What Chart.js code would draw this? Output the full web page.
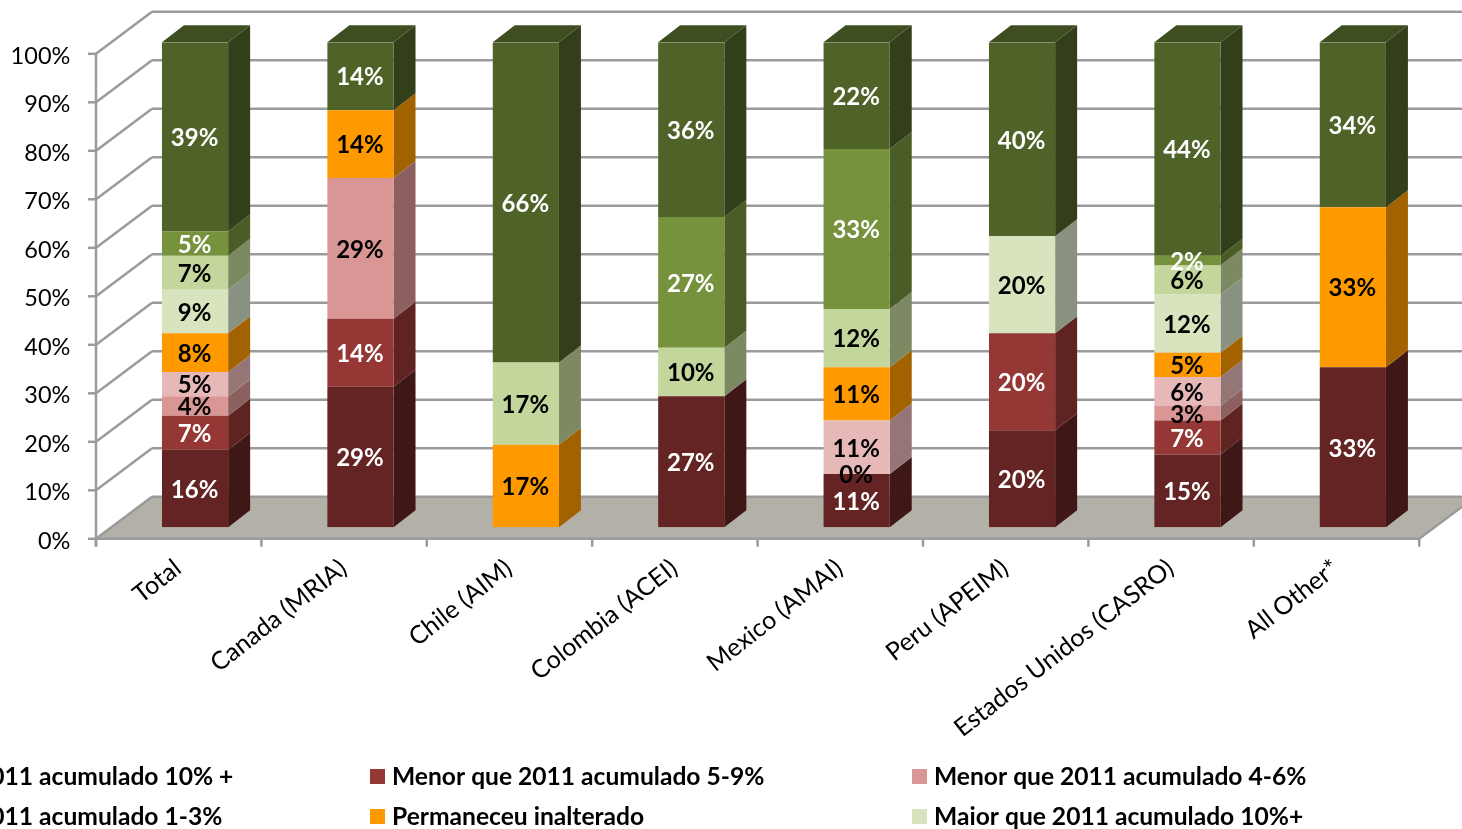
<!DOCTYPE html>
<html>
<head>
<meta charset="utf-8">
<style>
  html, body { margin: 0; padding: 0; background: #fff; overflow: hidden; }
  canvas { display: block; }
</style>
<script src="https://cdn.jsdelivr.net/npm/chart.js@4"></script>
</head>
<body>
<canvas id="chart" width="1462" height="829"></canvas>
<script>
const categories = ['Total', 'Canada (MRIA)', 'Chile (AIM)', 'Colombia (ACEI)', 'Mexico (AMAI)', 'Peru (APEIM)', 'Estados Unidos (CASRO)', 'All Other*'];

const seriesNames = [
  'Menor que 2011 acumulado 10% +',
  'Menor que 2011 acumulado 5-9%',
  'Menor que 2011 acumulado 4-6%',
  'Menor que 2011 acumulado 1-3%',
  'Permaneceu inalterado',
  'Maior que 2011 acumulado 10%+',
  'Maior que 2011 acumulado 5-9%',
  'Maior que 2011 acumulado 4-6%',
  'Maior que 2011 acumulado 1-3%'
];

const menor10 = [16, 29, null, 27, 11, 20, 15, 33];
const menor59 = [7, 14, null, null, null, 20, 7, null];
const menor46 = [4, 29, null, null, 0, null, 3, null];
const menor13 = [5, null, null, null, 11, null, 6, null];
const inalterado = [8, 14, 17, null, 11, null, 5, 33];
const maior10 = [9, null, null, null, null, 20, 12, null];
const maior59 = [7, null, 17, 10, 12, null, 6, null];
const maior46 = [5, null, null, 27, 33, null, 2, null];
const maior13 = [39, 14, 66, 36, 22, 40, 44, 34];

const seriesValues = [menor10, menor59, menor46, menor13, inalterado, maior10, maior59, maior46, maior13];

const frontColors = ['#632423', '#953735', '#D99694', '#E6B9B8', '#FF9900', '#D7E4BD', '#C3D69B', '#76923C', '#4F6228'];
const sideColors = ['#3F1716', '#5F2322', '#8B605F', '#937675', '#A36200', '#899281', '#7D8963', '#4B5D26', '#323F1A'];
const labelColors = ['#fff', '#fff', '#000', '#000', '#000', '#000', '#000', '#fff', '#fff'];
const topColor = '#3F4E20';

const legendCount = 6; // the last row falls below the picture

const FONT = 'Lato, Carlito, sans-serif';
const GRID = '#9b9b9b';

// front plane of the bars is the chart area, the walls sit around it
const WALL_DX = 56, WALL_DY = 42;
const AXIS_DX = 16.35, AXIS_DY = 11.5;
const BAR_DX = 22, BAR_DY = 17;

function line(ctx, x1, y1, x2, y2) {
  ctx.beginPath();
  ctx.moveTo(x1, y1);
  ctx.lineTo(x2, y2);
  ctx.stroke();
}

function poly(ctx, pts, color) {
  ctx.fillStyle = color;
  ctx.beginPath();
  pts.forEach((p, i) => i ? ctx.lineTo(p[0], p[1]) : ctx.moveTo(p[0], p[1]));
  ctx.closePath();
  ctx.fill();
}

const walls = {
  id: 'walls',
  beforeDatasetsDraw(chart) {
    const ctx = chart.ctx;
    const xs = chart.scales.x, ys = chart.scales.y;
    const step = xs.width / categories.length;
    const left = xs.left - AXIS_DX;
    const right = xs.right - AXIS_DX;
    const base = ys.getPixelForValue(0) + AXIS_DY;

    ctx.save();
    // floor
    poly(ctx, [[left, base], [right, base], [right + WALL_DX, base - WALL_DY], [left + WALL_DX, base - WALL_DY]], '#B3B0A8');

    ctx.strokeStyle = GRID;
    ctx.lineWidth = 2.5;
    ys.ticks.forEach(t => {
      const y = ys.getPixelForValue(t.value) + AXIS_DY;
      line(ctx, left - 8, y, left, y);
      line(ctx, left, y, left + WALL_DX, y - WALL_DY);
      line(ctx, left + WALL_DX, y - WALL_DY, right + WALL_DX, y - WALL_DY);
    });
    line(ctx, left, ys.getPixelForValue(100) + AXIS_DY, left, base + 8);
    line(ctx, left, base, right, base);
    line(ctx, right, base, right + WALL_DX, base - WALL_DY);
    for (let i = 0; i <= categories.length; i++) {
      line(ctx, left + i * step, base, left + i * step, base + 8);
    }

    // side and top faces of the bars
    seriesValues.forEach((vals, s) => {
      chart.getDatasetMeta(s).data.forEach((bar, i) => {
        if (!vals[i]) return;
        const r = bar.x + bar.width / 2;
        poly(ctx, [[r, bar.base], [r + BAR_DX, bar.base - BAR_DY], [r + BAR_DX, bar.y - BAR_DY], [r, bar.y]], sideColors[s]);
        if (s === seriesValues.length - 1) {
          const l = bar.x - bar.width / 2;
          poly(ctx, [[l, bar.y], [r, bar.y], [r + BAR_DX, bar.y - BAR_DY], [l + BAR_DX, bar.y - BAR_DY]], topColor);
        }
      });
    });
    ctx.restore();
  },
  afterDatasetsDraw(chart) {
    const ctx = chart.ctx;
    ctx.save();
    ctx.font = 'bold 24px ' + FONT;
    ctx.textAlign = 'center';
    ctx.textBaseline = 'middle';
    seriesValues.forEach((vals, s) => {
      ctx.fillStyle = labelColors[s];
      chart.getDatasetMeta(s).data.forEach((bar, i) => {
        if (vals[i] === null) return;
        ctx.fillText(vals[i] + '%', bar.x - 0.5, (bar.y + bar.base) / 2 + 1.5);
      });
    });

    // legend: three columns, the first one runs off the left edge
    ctx.font = 'bold 24.6px ' + FONT;
    ctx.textAlign = 'left';
    for (let i = 0; i < legendCount; i++) {
      const x = -172 + (i % 3) * 542;
      const y = 776 + Math.floor(i / 3) * 40;
      ctx.fillStyle = frontColors[i];
      ctx.fillRect(x, y - 7, 15, 15);
      ctx.fillStyle = '#000';
      ctx.fillText(seriesNames[i], x + 22, y + 1);
    }
    ctx.restore();
  }
};

new Chart(document.getElementById('chart'), {
  type: 'bar',
  data: {
    labels: categories,
    datasets: seriesValues.map((vals, s) => ({
      label: seriesNames[s],
      data: vals,
      backgroundColor: frontColors[s],
      borderWidth: 0
    }))
  },
  options: {
    responsive: false,
    animation: false,
    layout: { padding: { top: 42.3, right: 26.45, left: 0, bottom: 0 } },
    categoryPercentage: 1,
    barPercentage: 0.4,
    plugins: { legend: { display: false }, tooltip: { enabled: false } },
    scales: {
      x: {
        stacked: true,
        grid: { display: false, drawTicks: false },
        border: { display: false },
        ticks: {
          autoSkip: false,
          minRotation: 38,
          maxRotation: 38,
          padding: 26,
          labelOffset: -17,
          color: '#000',
          font: { family: FONT, size: 25 }
        },
        afterFit(scale) {
          scale.height = 301.7;
          scale.paddingLeft = scale.paddingRight = 0;
        }
      },
      y: {
        stacked: true,
        min: 0,
        max: 100,
        grid: { display: false, drawTicks: false },
        border: { display: false },
        ticks: {
          stepSize: 10,
          padding: 42,
          labelOffset: 14,
          color: '#000',
          font: { family: FONT, size: 23.5 },
          callback: v => v + '%'
        },
        afterFit(scale) {
          scale.width = 112.35;
          scale.paddingTop = scale.paddingBottom = 0;
        }
      }
    }
  },
  plugins: [walls]
});
</script>
</body>
</html>
